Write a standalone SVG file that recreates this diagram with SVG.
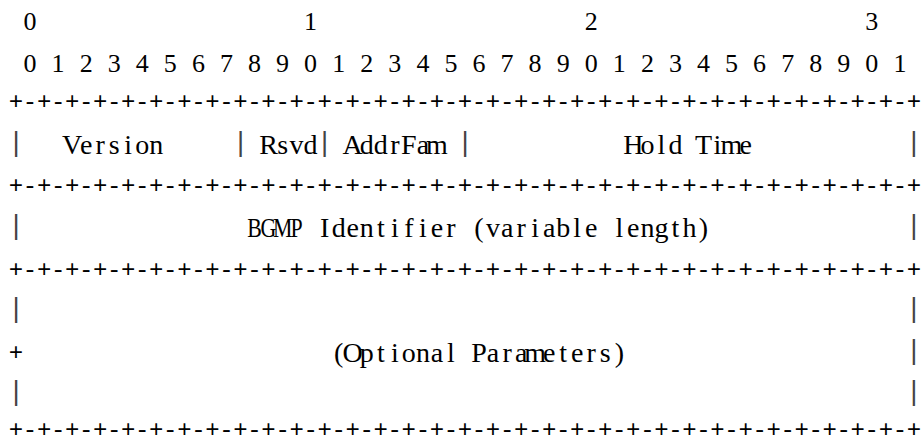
<svg xmlns="http://www.w3.org/2000/svg" width="922" height="444" viewBox="0 0 922 444">
<style>
.s{font-family:"Liberation Serif","Times New Roman",serif;font-size:28px;fill:#000;text-anchor:middle}
.d{font-family:"Liberation Serif","Times New Roman",serif;font-size:26px;fill:#000;text-anchor:middle}
.r{font-family:"Liberation Mono","Courier New",monospace;font-size:24px;fill:#000;text-anchor:middle}
.b{font-family:"Liberation Mono","Courier New",monospace;font-size:27px;fill:#444;text-anchor:middle}
</style>
<rect width="922" height="444" fill="#fff"/>
<g id="bit-header">
<text class="d" x="30" y="30">0</text>
<text class="d" x="310.6" y="30">1</text>
<text class="d" x="591.2" y="30">2</text>
<text class="d" x="871.8" y="30">3</text>
<text class="d" y="71.5" xml:space="preserve" x="30 44.1 58.1 72.1 86.2 100.2 114.2 128.2 142.3 156.3 170.3 184.4 198.4 212.4 226.5 240.5 254.5 268.5 282.6 296.6 310.6 324.7 338.7 352.7 366.8 380.8 394.8 408.8 422.9 436.9 450.9 465 479 493 507.1 521.1 535.1 549.1 563.2 577.2 591.2 605.3 619.3 633.3 647.4 661.4 675.4 689.4 703.5 717.5 731.5 745.6 759.6 773.6 787.7 801.7 815.7 829.7 843.8 857.8 871.8 885.9 899.9">0 1 2 3 4 5 6 7 8 9 0 1 2 3 4 5 6 7 8 9 0 1 2 3 4 5 6 7 8 9 0 1</text>
</g>
<g id="rules">
<text id="rule1" class="r" y="109.4" x="16 30 44.1 58.1 72.1 86.2 100.2 114.2 128.2 142.3 156.3 170.3 184.4 198.4 212.4 226.5 240.5 254.5 268.5 282.6 296.6 310.6 324.7 338.7 352.7 366.8 380.8 394.8 408.8 422.9 436.9 450.9 465 479 493 507.1 521.1 535.1 549.1 563.2 577.2 591.2 605.3 619.3 633.3 647.4 661.4 675.4 689.4 703.5 717.5 731.5 745.6 759.6 773.6 787.7 801.7 815.7 829.7 843.8 857.8 871.8 885.9 899.9 913.9">+-+-+-+-+-+-+-+-+-+-+-+-+-+-+-+-+-+-+-+-+-+-+-+-+-+-+-+-+-+-+-+-+</text>
<text id="rule2" class="r" y="192.7" x="16 30 44.1 58.1 72.1 86.2 100.2 114.2 128.2 142.3 156.3 170.3 184.4 198.4 212.4 226.5 240.5 254.5 268.5 282.6 296.6 310.6 324.7 338.7 352.7 366.8 380.8 394.8 408.8 422.9 436.9 450.9 465 479 493 507.1 521.1 535.1 549.1 563.2 577.2 591.2 605.3 619.3 633.3 647.4 661.4 675.4 689.4 703.5 717.5 731.5 745.6 759.6 773.6 787.7 801.7 815.7 829.7 843.8 857.8 871.8 885.9 899.9 913.9">+-+-+-+-+-+-+-+-+-+-+-+-+-+-+-+-+-+-+-+-+-+-+-+-+-+-+-+-+-+-+-+-+</text>
<text id="rule3" class="r" y="276.7" x="16 30 44.1 58.1 72.1 86.2 100.2 114.2 128.2 142.3 156.3 170.3 184.4 198.4 212.4 226.5 240.5 254.5 268.5 282.6 296.6 310.6 324.7 338.7 352.7 366.8 380.8 394.8 408.8 422.9 436.9 450.9 465 479 493 507.1 521.1 535.1 549.1 563.2 577.2 591.2 605.3 619.3 633.3 647.4 661.4 675.4 689.4 703.5 717.5 731.5 745.6 759.6 773.6 787.7 801.7 815.7 829.7 843.8 857.8 871.8 885.9 899.9 913.9">+-+-+-+-+-+-+-+-+-+-+-+-+-+-+-+-+-+-+-+-+-+-+-+-+-+-+-+-+-+-+-+-+</text>
<text id="rule4" class="r" y="436.8" x="16 30 44.1 58.1 72.1 86.2 100.2 114.2 128.2 142.3 156.3 170.3 184.4 198.4 212.4 226.5 240.5 254.5 268.5 282.6 296.6 310.6 324.7 338.7 352.7 366.8 380.8 394.8 408.8 422.9 436.9 450.9 465 479 493 507.1 521.1 535.1 549.1 563.2 577.2 591.2 605.3 619.3 633.3 647.4 661.4 675.4 689.4 703.5 717.5 731.5 745.6 759.6 773.6 787.7 801.7 815.7 829.7 843.8 857.8 871.8 885.9 899.9 913.9">+-+-+-+-+-+-+-+-+-+-+-+-+-+-+-+-+-+-+-+-+-+-+-+-+-+-+-+-+-+-+-+-+</text>
</g>
<g id="row-header-fields">
<text class="b" x="16" y="151">|</text>
<text class="s" y="154" x="72.1 86.2 100.2 114.2 128.2 142.3 156.3">Version</text>
<text class="b" x="240.5" y="151">|</text>
<text class="s" y="154" x="268.5 282.6 296.6 310.6">Rsvd</text>
<text class="b" x="324.7" y="151">|</text>
<text class="s" y="154" x="352.7 366.8 380.8 394.8 408.8 422.9 436.9">AddrFam</text>
<text class="b" x="465" y="151">|</text>
<text class="s" y="154" xml:space="preserve" x="633.3 647.4 661.4 675.4 689.4 703.5 717.5 731.5 745.6">Hold Time</text>
<text class="b" x="913.9" y="151">|</text>
</g>
<g id="row-identifier">
<text class="b" x="16" y="234">|</text>
<text class="s" y="237" transform="matrix(0.78 0 0 1 60.62 0)" x="248.56 266.51 284.59 302.54">BGMP</text>
<text class="s" y="237" xml:space="preserve" x="324.7 338.7 352.7 366.8 380.8 394.8 408.8 422.9 436.9 450.9 465 479 493 507.1 521.1 535.1 549.1 563.2 577.2 591.2 605.3 619.3 633.3 647.4 661.4 675.4 689.4 703.5">Identifier (variable length)</text>
<text class="b" x="913.9" y="234">|</text>
</g>
<g id="row-optional">
<text class="b" x="16" y="317">|</text>
<text class="b" x="913.9" y="317">|</text>
<text class="r" x="16" y="360">+</text>
<text class="s" y="361.5" xml:space="preserve" x="338.7 352.7 366.8 380.8 394.8 408.8 422.9 436.9 450.9 465 479 493 507.1 521.1 535.1 549.1 563.2 577.2 591.2 605.3 619.3">(Optional Parameters)</text>
<text class="b" x="913.9" y="358.5">|</text>
<text class="b" x="16" y="400">|</text>
<text class="b" x="913.9" y="400">|</text>
</g>
</svg>
